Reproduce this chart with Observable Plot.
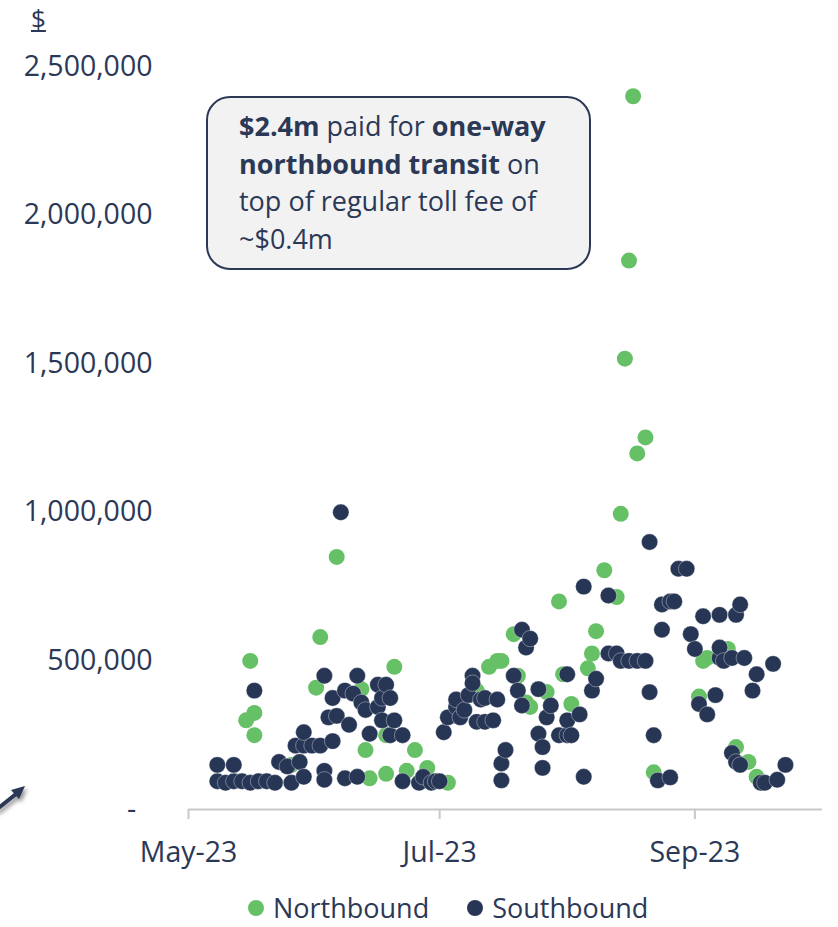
<!DOCTYPE html>
<html><head><meta charset="utf-8">
<script src="https://cdn.jsdelivr.net/npm/d3@7"></script>
<script src="https://cdn.jsdelivr.net/npm/@observablehq/plot@0.6"></script>
<style>
body{margin:0;background:#fff;font-family:"Open Sans",sans-serif;color:#2b3856}
#wrap{position:relative;width:838px;height:927px;overflow:hidden}
#chart{position:absolute;left:0;top:0}
#unit{position:absolute;left:31px;top:0px;font-size:26px;line-height:36px;text-decoration:underline;text-decoration-thickness:2px;text-underline-offset:2px}
#note{position:absolute;left:206px;top:96px;width:381px;height:170px;border:2px solid #2b3856;border-radius:24px;background:#f2f2f2;box-sizing:content-box}
#note div{position:absolute;left:31px;top:9px;font-size:27px;line-height:37.5px;white-space:nowrap}
#legend{position:absolute;left:248px;top:889px;font-size:27px;line-height:37px;white-space:nowrap;display:flex;align-items:center}
.sw{display:inline-block;width:16px;height:16px;border-radius:50%;margin-right:9px}
#arrow{position:absolute;left:0;top:775px}
</style></head><body>
<div id="wrap">
  <div id="chart"></div>
  <div id="unit">$</div>
  <div id="note"><div><b>$2.4m</b> paid for <b>one-way</b><br><b>northbound transit</b> on<br>top of regular toll fee of<br>~$0.4m</div></div>
  <div id="legend"></div>
  <svg id="arrow" width="40" height="45">
    <defs><filter id="sh" x="-50%" y="-50%" width="200%" height="200%"><feDropShadow dx="2" dy="3" stdDeviation="2" flood-color="#000" flood-opacity="0.45"/></filter></defs>
    <g filter="url(#sh)" stroke="#2b3856" fill="#2b3856">
      <line x1="-4" y1="35" x2="16" y2="19" stroke-width="4"/>
      <path d="M25 11 L11 15 L19 24 Z" stroke="none"/>
    </g>
  </svg>
</div>
<script>
const seriesNames = ["Northbound", "Southbound"];
const seriesColors = ["#66c166", "#283656"];
const textColor = "#2b3856";
const axisColor = "#c8c8c8";
const xTickDates = ["2023-05-01", "2023-07-01", "2023-09-01"];
const yTicks = [0, 500000, 1000000, 1500000, 2000000, 2500000];
const xDomain = ["2023-05-01", "2023-10-02"];

const northDates = ["2023-05-15","2023-05-16","2023-05-17","2023-05-17","2023-05-26","2023-06-01","2023-06-02","2023-06-06","2023-06-12","2023-06-13",
  "2023-06-14","2023-06-18","2023-06-18","2023-06-20","2023-06-23","2023-06-25","2023-06-28","2023-07-03","2023-07-10","2023-07-13",
  "2023-07-15","2023-07-16","2023-07-19","2023-07-20","2023-07-22","2023-07-23","2023-07-27","2023-07-30","2023-07-31","2023-08-02",
  "2023-08-06","2023-08-07","2023-08-08","2023-08-10","2023-08-13","2023-08-14","2023-08-15","2023-08-16","2023-08-17","2023-08-18",
  "2023-08-20","2023-08-22","2023-09-02","2023-09-03","2023-09-04","2023-09-09","2023-09-11","2023-09-14","2023-09-16"];
const northValues = [300000,500000,325000,250000,150000,410000,580000,850000,405000,200000,
  105000,250000,120000,480000,130000,200000,140000,90000,400000,480000,
  500000,500000,590000,450000,360000,345000,395000,700000,455000,355000,
  475000,525000,600000,805000,715000,995000,1517000,1847000,2400000,1198000,
  1252000,125000,380000,500000,510000,540000,210000,160000,110000];

const southDates = ["2023-05-08","2023-05-08","2023-05-10","2023-05-12","2023-05-12","2023-05-14","2023-05-16","2023-05-17","2023-05-18","2023-05-20",
  "2023-05-22","2023-05-23","2023-05-25","2023-05-26","2023-05-27","2023-05-28","2023-05-29","2023-05-29","2023-05-29","2023-05-31",
  "2023-06-02","2023-06-03","2023-06-03","2023-06-03","2023-06-04","2023-06-05","2023-06-05","2023-06-06","2023-06-07","2023-06-08",
  "2023-06-08","2023-06-09","2023-06-10","2023-06-11","2023-06-11","2023-06-12","2023-06-13","2023-06-14","2023-06-16","2023-06-16",
  "2023-06-17","2023-06-17","2023-06-18","2023-06-19","2023-06-19","2023-06-20","2023-06-22","2023-06-22","2023-06-26","2023-06-27",
  "2023-06-29","2023-06-30","2023-07-01","2023-07-02","2023-07-03","2023-07-05","2023-07-05","2023-07-06","2023-07-07","2023-07-08",
  "2023-07-09","2023-07-09","2023-07-10","2023-07-11","2023-07-12","2023-07-12","2023-07-14","2023-07-15","2023-07-16","2023-07-16",
  "2023-07-17","2023-07-19","2023-07-20","2023-07-21","2023-07-21","2023-07-22","2023-07-23","2023-07-25","2023-07-25","2023-07-26",
  "2023-07-26","2023-07-27","2023-07-28","2023-07-30","2023-08-01","2023-08-01","2023-08-01","2023-08-02","2023-08-04","2023-08-05",
  "2023-08-05","2023-08-07","2023-08-08","2023-08-11","2023-08-11","2023-08-13","2023-08-14","2023-08-16","2023-08-18","2023-08-20",
  "2023-08-21","2023-08-21","2023-08-22","2023-08-23","2023-08-24","2023-08-24","2023-08-26","2023-08-26","2023-08-27","2023-08-28",
  "2023-08-30","2023-08-31","2023-09-01","2023-09-02","2023-09-03","2023-09-04","2023-09-06","2023-09-07","2023-09-07","2023-09-07",
  "2023-09-08","2023-09-10","2023-09-10","2023-09-11","2023-09-11","2023-09-12","2023-09-12","2023-09-13","2023-09-15","2023-09-16",
  "2023-09-17","2023-09-18","2023-09-20","2023-09-21","2023-09-23"];
const southValues = [95000,150000,90000,95000,150000,95000,90000,400000,95000,95000,
  90000,160000,145000,90000,215000,160000,215000,260000,110000,215000,
  215000,450000,130000,100000,310000,230000,375000,315000,1000000,400000,
  105000,285000,390000,450000,110000,360000,335000,255000,420000,345000,
  300000,375000,420000,375000,250000,300000,250000,95000,90000,110000,
  90000,95000,95000,260000,310000,345000,370000,310000,335000,385000,
  450000,425000,295000,370000,375000,295000,300000,370000,155000,98000,
  200000,450000,400000,605000,350000,545000,575000,405000,255000,210000,
  140000,310000,350000,250000,250000,455000,300000,250000,320000,750000,
  110000,400000,440000,720000,525000,525000,500000,500000,500000,500000,
  900000,395000,250000,98000,690000,605000,108000,700000,700000,810000,
  810000,590000,540000,355000,650000,320000,385000,510000,545000,655000,
  500000,510000,190000,655000,160000,150000,690000,510000,400000,455000,
  90000,90000,490000,100000,150000];

const parse = d3.utcParse("%Y-%m-%d");
const north = northDates.map((d, i) => ({date: parse(d), value: northValues[i], dir: seriesNames[0]}));
const south = southDates.map((d, i) => ({date: parse(d), value: southValues[i], dir: seriesNames[1]}));
const fmt = d3.format(",");

const chart = Plot.plot({
  width: 838,
  height: 870,
  marginTop: 66,
  marginBottom: 61,
  marginLeft: 188,
  marginRight: 16,
  style: {fontFamily: "Open Sans", fontSize: "28.5px", color: textColor, background: "transparent", overflow: "visible"},
  x: {type: "utc", domain: xDomain.map(parse)},
  y: {domain: [0, 2500000]},
  color: {domain: seriesNames, range: seriesColors},
  marks: [
    Plot.ruleY([0], {stroke: axisColor, strokeWidth: 2}),
    Plot.axisX({ticks: xTickDates.map(parse), tickFormat: d3.utcFormat("%b-%y"), tickSize: 10, tickPadding: 22, stroke: axisColor, strokeWidth: 2, fill: textColor, label: null}),
    Plot.axisY({ticks: yTicks, tickFormat: d => d === 0 ? "-\u2007" : fmt(d), tickSize: 0, tickPadding: 36, fill: textColor, label: null}),
    Plot.dot(north, {x: "date", y: "value", r: 8, fill: "dir"}),
    Plot.dot(south, {x: "date", y: "value", r: 8.2, fill: "dir", stroke: "#ffffff", strokeWidth: 0.6, strokeOpacity: 0.6})
  ]
});
document.getElementById("chart").appendChild(chart);

const legend = d3.select("#legend");
seriesNames.forEach((name, i) => {
  const item = legend.append("span").style("display", "inline-flex").style("align-items", "center").style("margin-right", i === 0 ? "38px" : "0");
  item.append("span").attr("class", "sw").style("background", seriesColors[i]);
  item.append("span").text(name);
});
</script>
</body></html>
